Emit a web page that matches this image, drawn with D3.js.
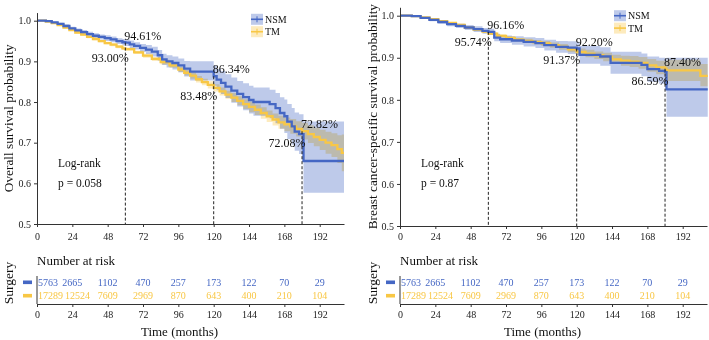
<!DOCTYPE html>
<html>
<head>
<meta charset="utf-8">
<script src="https://cdn.jsdelivr.net/npm/d3@7"></script>
<style>
body { margin: 0; background: #fff; }
svg { display: block; font-family: "Liberation Serif", "Times New Roman", serif; }
</style>
</head>
<body>
<svg id="chart" width="709" height="340"></svg>
<script>
// ---- data ----
const groups = ["NSM", "TM"];
const months = [0, 24, 48, 72, 96, 120, 144, 168, 192];
const yTicks = [0.5, 0.6, 0.7, 0.8, 0.9, 1.0];
const landmarks = [60, 120, 180];

const riskNSM = [5763, 2665, 1102, 470, 257, 173, 122, 70, 29];
const riskTM = [17289, 12524, 7609, 2969, 870, 643, 400, 210, 104];

// overall survival, NSM
const osNsmTime = [0, 6, 10, 14, 18, 22, 26, 30, 34, 38, 42, 46, 50, 54, 58, 60, 63, 66, 70, 74, 78, 82, 85, 88, 92, 96, 100, 104, 120, 122, 125, 128, 132, 136, 140, 144, 147, 158, 162, 165, 168, 170, 173, 175, 178, 181, 208.5];
const osNsmSurv = [1.000, 0.999, 0.996, 0.992, 0.987, 0.981, 0.976, 0.972, 0.967, 0.963, 0.960, 0.957, 0.954, 0.950, 0.947, 0.9461, 0.942, 0.938, 0.933, 0.929, 0.924, 0.915, 0.905, 0.900, 0.896, 0.890, 0.882, 0.875, 0.8634, 0.855, 0.847, 0.838, 0.828, 0.820, 0.812, 0.805, 0.800, 0.795, 0.785, 0.773, 0.765, 0.752, 0.740, 0.727, 0.7208, 0.655, 0.655];
const osNsmLow = [1.000, 0.998, 0.994, 0.989, 0.983, 0.977, 0.971, 0.967, 0.961, 0.957, 0.954, 0.950, 0.947, 0.943, 0.939, 0.938, 0.933, 0.929, 0.923, 0.918, 0.912, 0.902, 0.891, 0.885, 0.880, 0.873, 0.863, 0.853, 0.840, 0.830, 0.820, 0.810, 0.798, 0.789, 0.780, 0.772, 0.766, 0.760, 0.748, 0.734, 0.724, 0.709, 0.695, 0.680, 0.672, 0.577, 0.577];
const osNsmHigh = [1.000, 1.000, 0.998, 0.995, 0.991, 0.985, 0.981, 0.977, 0.973, 0.969, 0.966, 0.964, 0.961, 0.957, 0.955, 0.954, 0.951, 0.947, 0.943, 0.940, 0.936, 0.928, 0.919, 0.915, 0.912, 0.907, 0.901, 0.900, 0.890, 0.882, 0.876, 0.868, 0.860, 0.852, 0.846, 0.840, 0.836, 0.830, 0.822, 0.812, 0.806, 0.795, 0.785, 0.774, 0.770, 0.752, 0.752];

// overall survival, TM
const osTmTime = [0, 6, 10, 14, 18, 22, 26, 30, 34, 38, 42, 46, 50, 54, 58, 60, 66, 72, 78, 84, 90, 96, 100, 104, 108, 112, 116, 120, 124, 128, 132, 136, 140, 144, 148, 152, 156, 160, 164, 168, 172, 176, 180, 184, 188, 192, 196, 200, 204, 207, 208.5];
const osTmSurv = [1.000, 0.998, 0.994, 0.989, 0.983, 0.977, 0.971, 0.966, 0.960, 0.955, 0.950, 0.945, 0.941, 0.936, 0.932, 0.930, 0.922, 0.914, 0.906, 0.898, 0.890, 0.880, 0.872, 0.865, 0.856, 0.849, 0.842, 0.8348, 0.826, 0.818, 0.811, 0.803, 0.795, 0.788, 0.781, 0.773, 0.765, 0.757, 0.750, 0.745, 0.740, 0.734, 0.7282, 0.721, 0.714, 0.707, 0.700, 0.694, 0.684, 0.675, 0.675];
const osTmLow = [1.000, 0.997, 0.993, 0.987, 0.981, 0.975, 0.968, 0.963, 0.957, 0.952, 0.947, 0.942, 0.937, 0.932, 0.928, 0.926, 0.918, 0.909, 0.901, 0.892, 0.884, 0.873, 0.865, 0.857, 0.848, 0.841, 0.833, 0.826, 0.816, 0.808, 0.800, 0.792, 0.783, 0.775, 0.768, 0.759, 0.751, 0.742, 0.734, 0.728, 0.722, 0.715, 0.708, 0.699, 0.691, 0.682, 0.673, 0.665, 0.650, 0.630, 0.630];
const osTmHigh = [1.000, 0.999, 0.995, 0.991, 0.985, 0.979, 0.974, 0.969, 0.963, 0.958, 0.953, 0.948, 0.945, 0.940, 0.936, 0.934, 0.926, 0.919, 0.911, 0.904, 0.896, 0.887, 0.879, 0.873, 0.864, 0.857, 0.851, 0.844, 0.836, 0.828, 0.822, 0.814, 0.807, 0.801, 0.794, 0.787, 0.779, 0.772, 0.766, 0.762, 0.758, 0.753, 0.749, 0.743, 0.737, 0.732, 0.727, 0.723, 0.718, 0.720, 0.720];

// breast cancer-specific survival, NSM
const bcNsmTime = [0, 8, 14, 20, 26, 32, 38, 44, 50, 56, 60, 64, 68, 76, 84, 92, 98, 106, 114, 120, 122, 136, 143, 164, 168, 176, 180, 181, 209];
const bcNsmSurv = [1.000, 0.999, 0.995, 0.990, 0.985, 0.980, 0.976, 0.972, 0.968, 0.964, 0.9616, 0.948, 0.944, 0.941, 0.938, 0.935, 0.930, 0.926, 0.924, 0.922, 0.907, 0.903, 0.888, 0.883, 0.873, 0.869, 0.8659, 0.825, 0.825];
const bcNsmLow = [1.000, 0.998, 0.993, 0.987, 0.981, 0.975, 0.971, 0.966, 0.961, 0.957, 0.954, 0.939, 0.935, 0.931, 0.927, 0.923, 0.917, 0.912, 0.909, 0.906, 0.886, 0.881, 0.862, 0.856, 0.843, 0.838, 0.834, 0.760, 0.760];
const bcNsmHigh = [1.000, 1.000, 0.997, 0.993, 0.989, 0.985, 0.981, 0.978, 0.975, 0.971, 0.969, 0.957, 0.953, 0.951, 0.949, 0.947, 0.943, 0.940, 0.939, 0.938, 0.928, 0.925, 0.914, 0.910, 0.903, 0.900, 0.898, 0.900, 0.900];

// breast cancer-specific survival, TM
const bcTmTime = [0, 8, 14, 20, 26, 32, 38, 44, 50, 56, 60, 66, 72, 78, 84, 90, 96, 102, 108, 114, 120, 126, 132, 138, 144, 150, 156, 162, 168, 174, 180, 181, 204, 209];
const bcTmSurv = [1.000, 0.999, 0.996, 0.992, 0.987, 0.983, 0.978, 0.972, 0.967, 0.962, 0.9574, 0.952, 0.947, 0.943, 0.940, 0.937, 0.934, 0.930, 0.926, 0.920, 0.9137, 0.910, 0.906, 0.902, 0.896, 0.893, 0.891, 0.888, 0.882, 0.877, 0.874, 0.870, 0.857, 0.857];
const bcTmLow = [1.000, 0.998, 0.995, 0.990, 0.985, 0.981, 0.975, 0.969, 0.964, 0.959, 0.954, 0.948, 0.943, 0.939, 0.935, 0.932, 0.928, 0.924, 0.919, 0.913, 0.906, 0.901, 0.897, 0.892, 0.885, 0.881, 0.878, 0.874, 0.867, 0.861, 0.856, 0.845, 0.832, 0.832];
const bcTmHigh = [1.000, 1.000, 0.997, 0.994, 0.989, 0.985, 0.981, 0.975, 0.970, 0.965, 0.961, 0.956, 0.951, 0.947, 0.945, 0.942, 0.940, 0.936, 0.933, 0.927, 0.922, 0.919, 0.915, 0.912, 0.907, 0.905, 0.904, 0.902, 0.897, 0.893, 0.892, 0.895, 0.885, 0.885];

const osPctNSM = [94.61, 86.34, 72.08];
const osPctTM = [93.00, 83.48, 72.82];
const bcPctNSM = [96.16, 92.20, 86.59];
const bcPctTM = [95.74, 91.37, 87.40];

// ---- drawing ----
const blue = "#4567c4", yellow = "#f8c745";
const svg = d3.select("#chart");

function drawPanel(p) {
  const x = d3.scaleLinear().domain([0, 208.5]).range([p.left, p.left + 307]);
  const y = d3.scaleLinear().domain([0.5, 1.02]).range([p.bottom, p.top]);
  const g = svg.append("g");

  const series = [
    { t: p.nsm[0], s: p.nsm[1], lo: p.nsm[2], hi: p.nsm[3], color: blue },
    { t: p.tm[0], s: p.tm[1], lo: p.tm[2], hi: p.tm[3], color: yellow }
  ];

  const area = d3.area().curve(d3.curveStepAfter)
    .x(d => x(d.t)).y0(d => y(d.lo)).y1(d => y(d.hi));
  const line = d3.line().curve(d3.curveStepAfter)
    .x(d => x(d.t)).y(d => y(d.s));

  series.forEach(sr => {
    const pts = sr.t.map((t, i) => ({ t: t, s: sr.s[i], lo: sr.lo[i], hi: sr.hi[i] }));
    sr.pts = pts;
    g.append("path").attr("d", area(pts))
      .attr("fill", sr.color).attr("fill-opacity", 0.35)
      .style("mix-blend-mode", "multiply");
  });
  // TM drawn under NSM like the figure
  [series[1], series[0]].forEach(sr => {
    g.append("path").attr("d", line(sr.pts))
      .attr("fill", "none").attr("stroke", sr.color).attr("stroke-width", 2.3);
  });

  // landmark dashed lines and labels
  landmarks.forEach((t, i) => {
    const hi = Math.max(p.pctNSM[i], p.pctTM[i]) / 100;
    const lo = Math.min(p.pctNSM[i], p.pctTM[i]) / 100;
    g.append("line")
      .attr("x1", x(t)).attr("x2", x(t))
      .attr("y1", y(hi)).attr("y2", y(0.5))
      .attr("stroke", "#222").attr("stroke-width", 1).attr("stroke-dasharray", "3,2");
    g.append("text").attr("x", x(t) - 1).attr("y", y(hi) - 3)
      .attr("font-size", 12).attr("fill", "#111")
      .text(d3.format(".2f")(hi * 100) + "%");
    g.append("text").attr("x", x(t) + 3.5).attr("y", y(lo) + 12.5)
      .attr("font-size", 12).attr("fill", "#111").attr("text-anchor", "end")
      .text(d3.format(".2f")(lo * 100) + "%");
  });

  // axes
  const ax = g.append("g").attr("transform", `translate(0,${y(0.5)})`)
    .call(d3.axisBottom(x).tickValues(months).tickSize(3).tickSizeOuter(0).tickPadding(p.xPad));
  const ay = g.append("g").attr("transform", `translate(${p.left},0)`)
    .call(d3.axisLeft(y).tickValues(yTicks).tickFormat(d3.format(".1f")).tickSize(3).tickSizeOuter(0).tickPadding(3));
  [ax, ay].forEach(a => {
    a.selectAll("path, line").attr("stroke", "#333");
    a.selectAll("text").attr("font-size", 10).attr("fill", "#222")
      .style("font-family", "'Liberation Serif', serif");
  });

  g.append("text")
    .attr("transform", `translate(${p.titleX},${(y(0.5) + y(1.02)) / 2}) rotate(-90)`)
    .attr("text-anchor", "middle").attr("font-size", 13.3).attr("fill", "#111")
    .text(p.yTitle);

  // log-rank
  g.append("text").attr("x", p.left + 21).attr("y", 167)
    .attr("font-size", 11.5).attr("fill", "#111").text("Log-rank");
  g.append("text").attr("x", p.left + 21).attr("y", 186.5)
    .attr("font-size", 11.5).attr("fill", "#111").text(p.pText);

  // legend
  const lg = g.append("g");
  series.forEach((sr, i) => {
    const cy = y(1.0) + p.legDy + i * 12.4;
    const kx = p.left + 214;
    lg.append("rect").attr("x", kx).attr("y", cy - 5.5).attr("width", 12).attr("height", 11)
      .attr("fill", sr.color).attr("fill-opacity", 0.35);
    lg.append("line").attr("x1", kx).attr("x2", kx + 12).attr("y1", cy).attr("y2", cy)
      .attr("stroke", sr.color).attr("stroke-width", 1.6);
    lg.append("line").attr("x1", kx + 6).attr("x2", kx + 6).attr("y1", cy - 3).attr("y2", cy + 3)
      .attr("stroke", sr.color).attr("stroke-width", 1);
    lg.append("text").attr("x", kx + 14).attr("y", cy + 3.5)
      .attr("font-size", 10).attr("fill", "#111").text(groups[i]);
  });

  // number at risk table
  const tAxisY = 304;
  g.append("text").attr("x", p.left).attr("y", 264.5)
    .attr("font-size", 13).attr("fill", "#111").text("Number at risk");
  g.append("line").attr("x1", p.left).attr("x2", p.left).attr("y1", 276).attr("y2", tAxisY)
    .attr("stroke", "#333");
  const tx = g.append("g").attr("transform", `translate(0,${tAxisY})`)
    .call(d3.axisBottom(x).tickValues(months).tickSize(3).tickSizeOuter(0).tickPadding(4));
  tx.selectAll("path, line").attr("stroke", "#333");
  tx.selectAll("text").attr("font-size", 10).attr("fill", "#222")
    .style("font-family", "'Liberation Serif', serif");

  [riskNSM, riskTM].forEach((row, r) => {
    const cy = 282.3 + r * 13.4;
    const color = r === 0 ? blue : yellow;
    g.append("rect").attr("x", p.left - 14).attr("y", cy - 1.8).attr("width", 9).attr("height", 3.6)
      .attr("fill", color);
    let prevRight = -Infinity;
    row.forEach((v, i) => {
      const txt = g.append("text").attr("y", cy + 3.5).attr("font-size", 10)
        .attr("fill", color).text(v);
      const w = txt.node().getComputedTextLength();
      let left = i === 0 ? x(months[i]) + 1 : x(months[i]) - w / 2;
      if (left < prevRight + 2) left = prevRight + 2;
      txt.attr("x", left);
      prevRight = left + w;
    });
  });

  g.append("text")
    .attr("transform", `translate(${p.titleX},283) rotate(-90)`)
    .attr("text-anchor", "middle").attr("font-size", 13.5).attr("fill", "#111")
    .text("Surgery");
  g.append("text").attr("x", (x(0) + x(208.5)) / 2 - 11).attr("y", 335.5)
    .attr("text-anchor", "middle").attr("font-size", 13).attr("fill", "#111")
    .text("Time (months)");
}

drawPanel({
  left: 37, bottom: 224, top: 224 - 0.52 * 406.6, xPad: 6, titleX: 13, legDy: -1.4,
  yTitle: "Overall survival probability", pText: "p = 0.058",
  nsm: [osNsmTime, osNsmSurv, osNsmLow, osNsmHigh],
  tm: [osTmTime, osTmSurv, osTmLow, osTmHigh],
  pctNSM: osPctNSM, pctTM: osPctTM
});
drawPanel({
  left: 400, bottom: 226, top: 226 - 0.52 * 420.6, xPad: 4, titleX: 377, legDy: 0,
  yTitle: "Breast cancer-specific survival probability", pText: "p = 0.87",
  nsm: [bcNsmTime, bcNsmSurv, bcNsmLow, bcNsmHigh],
  tm: [bcTmTime, bcTmSurv, bcTmLow, bcTmHigh],
  pctNSM: bcPctNSM, pctTM: bcPctTM
});
</script>
</body>
</html>
